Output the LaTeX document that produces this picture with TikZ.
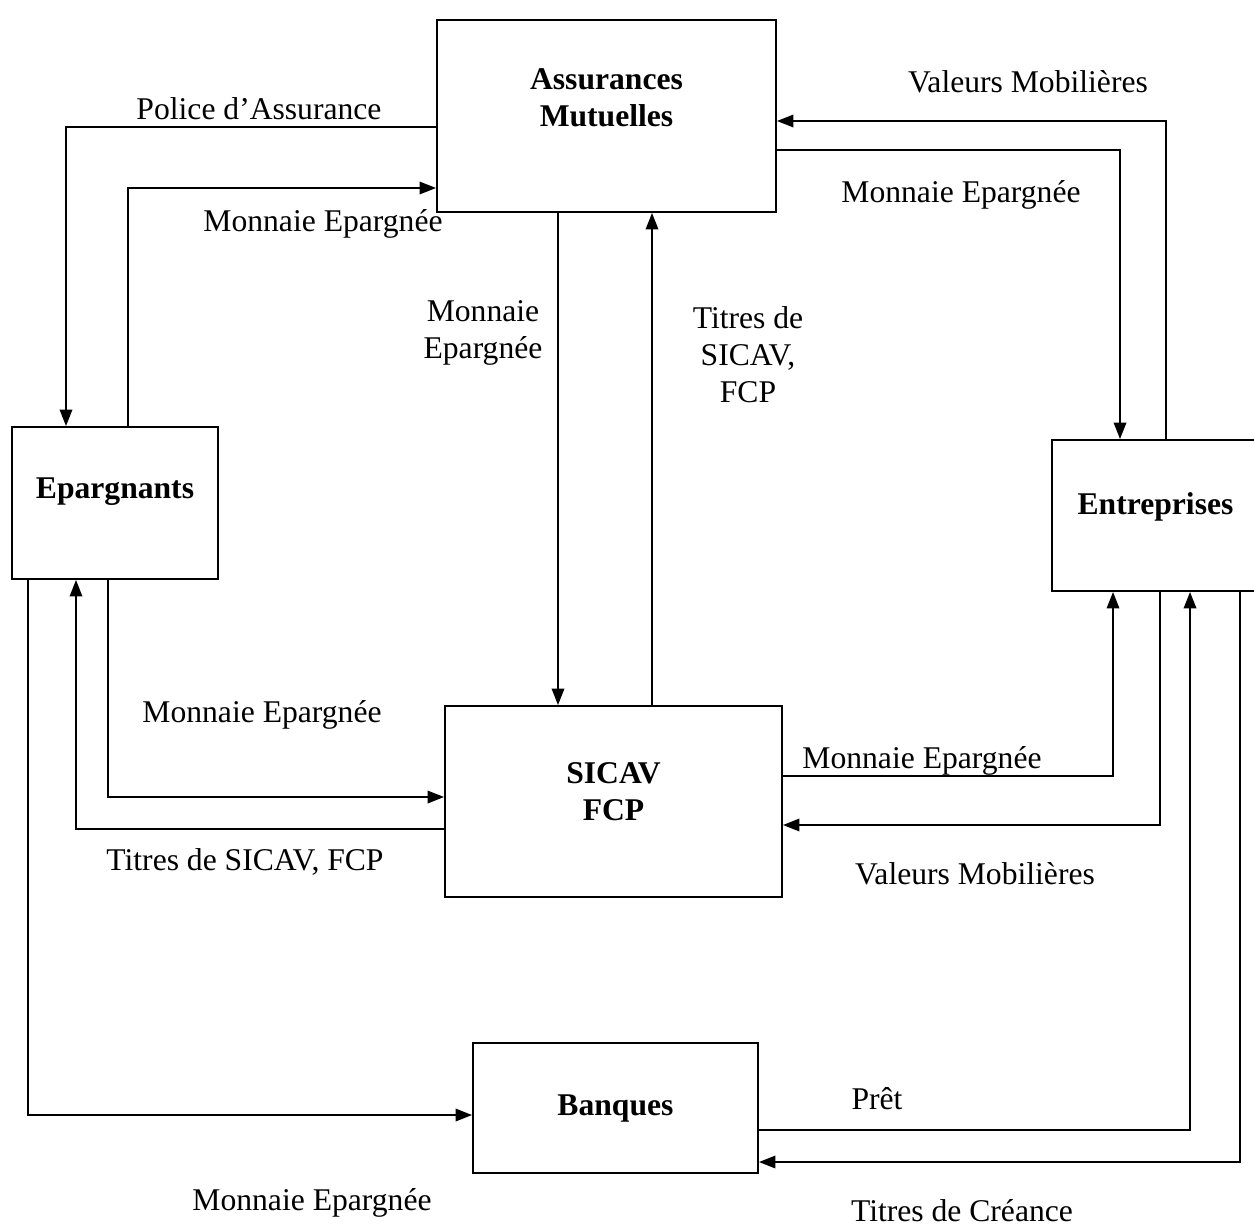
\documentclass[tikz,border=0pt]{standalone}
\usepackage{fontspec}
\setmainfont{Liberation Serif}
\usetikzlibrary{arrows.meta,positioning}

\begin{document}
\begin{tikzpicture}[x=0.02cm,y=-0.02cm,
  flow/.style={line width=1.1pt,-{Triangle[length=0.33cm,width=0.25cm]}},
  box/.style={draw,line width=1.1pt,inner sep=0pt,font=\fontsize{18}{21}\selectfont\bfseries,align=center},
  lbl/.style={font=\fontsize{18}{21}\selectfont,align=center,inner sep=0pt}]
\useasboundingbox (0,0) rectangle (1254,1227);

% institutions
\node[box,minimum width=339*0.02cm,minimum height=192*0.02cm] (am) at (606.5,116) {\raisebox{1.92em}{\begin{tabular}{@{}c@{}}Assurances\\Mutuelles\end{tabular}}};
\node[box,minimum width=206*0.02cm,minimum height=152*0.02cm] (ep) at (115,503) {\raisebox{0.94em}{Epargnants}};
\node[box,minimum width=212*0.02cm,minimum height=151*0.02cm] (en) at (1158,515.5) {\raisebox{0.76em}{\hspace*{-0.1cm}Entreprises}};
\node[box,minimum width=337*0.02cm,minimum height=191*0.02cm] (si) at (613.5,801.5) {\raisebox{1.36em}{\begin{tabular}{@{}c@{}}SICAV\\FCP\end{tabular}}};
\node[box,minimum width=285*0.02cm,minimum height=130*0.02cm] (ba) at (615.5,1108) {Banques};

% Assurances <-> Epargnants
\draw[flow] (am.west |- 0,127) -- (66,127) -- (ep.north -| 66,0);
\draw[flow] (ep.north -| 128,0) -- (128,188) -- (am.west |- 0,188);
\node[lbl] (l1) at (259,109) {Police d’Assurance};
\node[lbl] (l2) at (323,224) {Monnaie Epargnée};

% Assurances <-> SICAV
\draw[flow] (am.south -| 558,0) -- (si.north -| 558,0);
\draw[flow] (si.north -| 652,0) -- (am.south -| 652,0);
\node[lbl] (l3) at (483,333) {Monnaie\\Epargnée};
\node[lbl] (l4) at (748,355) {Titres de\\SICAV,\\FCP};

% Assurances <-> Entreprises
\draw[flow] (en.north -| 1166,0) -- (1166,121) -- (am.east |- 0,121);
\draw[flow] (am.east |- 0,150) -- (1120,150) -- (en.north -| 1120,0);
\node[lbl] (l5) at (1028,82) {Valeurs Mobilières};
\node[lbl] (l6) at (961,195) {Monnaie Epargnée};

% Epargnants <-> SICAV
\draw[flow] (ep.south -| 108,0) -- (108,797) -- (si.west |- 0,797);
\draw[flow] (si.west |- 0,829) -- (76,829) -- (ep.south -| 76,0);
\node[lbl] (l7) at (262,715) {Monnaie Epargnée};
\node[lbl] (l8) at (245,862) {Titres de SICAV, FCP};

% SICAV <-> Entreprises
\draw[flow] (si.east |- 0,776) -- (1113,776) -- (en.south -| 1113,0);
\draw[flow] (en.south -| 1160,0) -- (1160,825) -- (si.east |- 0,825);
\node[lbl] (l9) at (922,761) {Monnaie Epargnée};
\node[lbl] (l10) at (975,874) {Valeurs Mobilières};

% Epargnants -> Banques
\draw[flow] (ep.south -| 28,0) -- (28,1115) -- (ba.west |- 0,1115);
\node[lbl] (l11) at (312,1203) {Monnaie Epargnée};

% Banques <-> Entreprises
\draw[flow] (ba.east |- 0,1130) -- (1190,1130) -- (en.south -| 1190,0);
\draw[flow] (en.south -| 1240,0) -- (1240,1162) -- (ba.east |- 0,1162);
\node[lbl] (l12) at (877,1099) {Prêt};
\node[lbl] (l13) at (962,1211) {Titres de Créance};
\end{tikzpicture}
\end{document}
